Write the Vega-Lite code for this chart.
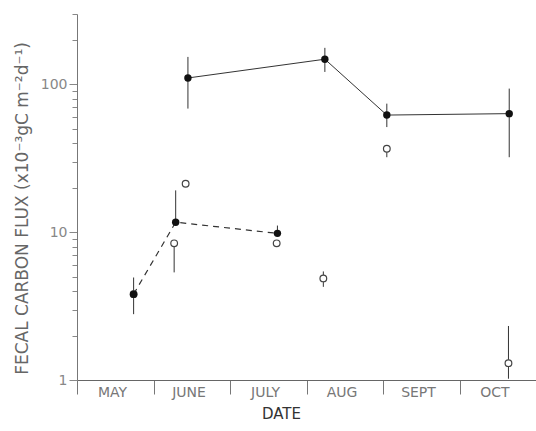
{
  "$schema": "https://vega.github.io/schema/vega-lite/v6.json",
  "width": 459,
  "height": 366,
  "autosize": "none",
  "padding": {"left": 77, "top": 14, "right": 0, "bottom": 51},
  "background": "white",
  "config": {"view": {"stroke": null}, "font": "DejaVu Sans"},
  "datasets": {
    "pts": [
      {"series": "solid", "month": 1.45, "flux": 110.7, "lo": 68.7, "hi": 153.7, "kind": "filled"},
      {"series": "solid", "month": 3.24, "flux": 148.3, "lo": 121.6, "hi": 177, "kind": "filled"},
      {"series": "solid", "month": 4.05, "flux": 62.1, "lo": 51.5, "hi": 74.2, "kind": "filled"},
      {"series": "solid", "month": 5.65, "flux": 63.5, "lo": 32.2, "hi": 93.8, "kind": "filled"},
      {"series": "dashed", "month": 0.74, "flux": 3.81, "lo": 2.79, "hi": 4.94, "kind": "filled"},
      {"series": "dashed", "month": 1.29, "flux": 11.7, "lo": 11.7, "hi": 19.2, "kind": "filled"},
      {"series": "dashed", "month": 2.62, "flux": 9.83, "lo": 9.83, "hi": 11.1, "kind": "filled"},
      {"series": "open", "month": 0.74, "flux": 3.81, "kind": "open"},
      {"series": "open", "month": 1.42, "flux": 21.3, "kind": "open"},
      {"series": "open", "month": 1.27, "flux": 8.41, "lo": 5.35, "hi": 8.41, "kind": "open"},
      {"series": "open", "month": 2.61, "flux": 8.41, "kind": "open"},
      {"series": "open", "month": 3.22, "flux": 4.87, "lo": 4.27, "hi": 5.43, "kind": "open"},
      {"series": "open", "month": 4.05, "flux": 36.7, "lo": 32.2, "hi": 38.5, "kind": "open"},
      {"series": "open", "month": 5.64, "flux": 1.3, "lo": 1.02, "hi": 2.32, "kind": "open"}
    ]
  },
  "data": {"name": "pts"},
  "encoding": {
    "x": {
      "field": "month", "type": "quantitative",
      "scale": {"domain": [0, 6], "nice": false, "zero": false},
      "axis": {
        "values": [0, 1, 2, 3, 4, 5],
        "labelExpr": "['MAY','JUNE','JULY','AUG','SEPT','OCT'][datum.value]",
        "labelOffset": 35,
        "labelFlush": false,
        "labelOverlap": false,
        "tickSize": 14,
        "labelPadding": -9,
        "labelFontSize": 14,
        "labelColor": "#777",
        "labelFontWeight": "normal",
        "domainColor": "#666",
        "tickColor": "#777",
        "grid": false,
        "title": "DATE",
        "titleFontSize": 15,
        "titleFontWeight": "normal",
        "titleColor": "#333",
        "titleX": 204,
        "titleY": 33,
        "titleBaseline": "middle",
        "titleAlign": "center"
      }
    },
    "y": {
      "field": "flux", "type": "quantitative",
      "scale": {"type": "log", "domain": [1, 300], "nice": false},
      "axis": {
        "values": [1, 2, 3, 4, 5, 6, 7, 8, 9, 10, 20, 30, 40, 50, 60, 70, 80, 90, 100, 200, 300],
        "labelExpr": "datum.value == 10 || datum.value == 100 ? datum.label : (datum.value == 1 ? '1' : '')",
        "tickSize": {"condition": {"test": "datum.value == 1 || datum.value == 10 || datum.value == 100", "value": 8}, "value": 5},
        "labelFontSize": 14,
        "labelColor": "#888",
        "domainColor": "#777",
        "tickColor": "#888",
        "grid": false,
        "title": "FECAL CARBON FLUX  (x10⁻³gC m⁻²d⁻¹)",
        "titleFontSize": 17,
        "titleFontWeight": "normal",
        "titleColor": "#666",
        "titleX": -55,
        "titleY": 194,
        "titleAlign": "center",
        "titleBaseline": "middle",
        "titleAngle": -90
      }
    }
  },
  "layer": [
    {
      "transform": [{"filter": "isValid(datum.lo)"}],
      "mark": {"type": "rule", "color": "#333", "strokeWidth": 1},
      "encoding": {"y": {"field": "lo", "type": "quantitative"}, "y2": {"field": "hi"}}
    },
    {
      "transform": [{"filter": "datum.series == 'solid'"}],
      "mark": {"type": "line", "color": "#333", "strokeWidth": 1},
      "encoding": {}
    },
    {
      "transform": [{"filter": "datum.series == 'dashed'"}],
      "mark": {"type": "line", "color": "#333", "strokeWidth": 1.2, "strokeDash": [6, 5]},
      "encoding": {}
    },
    {
      "transform": [{"filter": "datum.kind == 'open'"}],
      "mark": {"type": "point", "shape": "circle", "filled": false, "size": 45, "color": "#444", "strokeWidth": 1.2, "fill": "white", "fillOpacity": 1},
      "encoding": {}
    },
    {
      "transform": [{"filter": "datum.kind == 'filled'"}],
      "mark": {"type": "point", "shape": "circle", "filled": true, "size": 55, "color": "#111", "opacity": 1},
      "encoding": {}
    }
  ]
}
